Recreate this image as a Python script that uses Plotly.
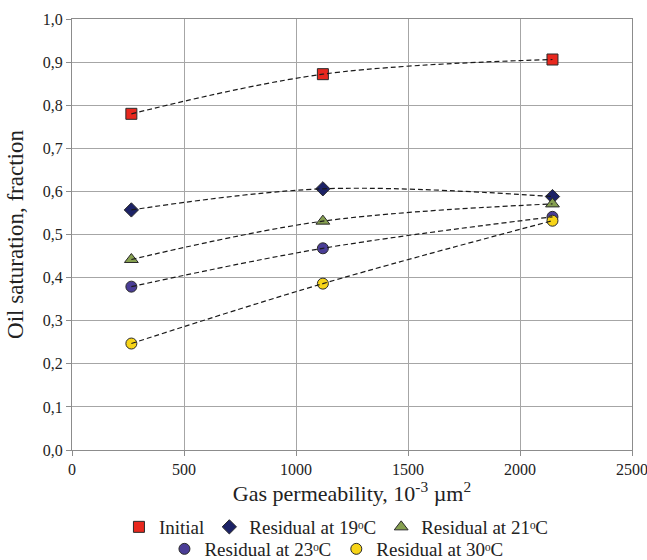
import plotly.graph_objects as go

# Data
permeability = [265, 1120, 2145]
initial = [0.780, 0.872, 0.906]
res_19 = [0.557, 0.606, 0.588]
res_21 = [0.442, 0.531, 0.571]
res_23 = [0.379, 0.468, 0.541]
res_30 = [0.247, 0.386, 0.532]

series = [
    ("Initial", initial, "square", "#e8281e", 11, "legend"),
    ("Residual at 19ᵒC", res_19, "diamond", "#1c2266", 11, "legend"),
    ("Residual at 21ᵒC", res_21, "triangle-up", "#86a050", 12, "legend"),
    ("Residual at 23ᵒC", res_23, "circle", "#4a3d96", 11, "legend2"),
    ("Residual at 30ᵒC", res_30, "circle", "#f7d417", 11, "legend2"),
]

fig = go.Figure()
for name, ys, sym, col, sz, lg in series:
    fig.add_trace(go.Scatter(
        x=permeability, y=ys, mode="markers", name=name, legend=lg,
        marker=dict(symbol=sym, color=col, size=sz, line=dict(color="#2a2a2a", width=1)),
    ))
for name, ys, sym, col, sz, lg in series:
    fig.add_trace(go.Scatter(
        x=permeability, y=ys, mode="lines", showlegend=False, hoverinfo="skip",
        line=dict(color="#1a1a1a", width=1.2, dash="5px,3px", shape="spline", smoothing=1.0),
    ))

font_family = "Times New Roman, Liberation Serif, serif"
fig.update_layout(
    width=647, height=560,
    margin=dict(l=72, r=15, t=19, b=110, autoexpand=False),
    paper_bgcolor="white", plot_bgcolor="white",
    separators=",.",
    font=dict(family=font_family, size=16, color="#222222"),
    showlegend=True,
    legend=dict(orientation="h", x=0.52, xanchor="center", xref="container",
                y=1 - 527 / 560, yanchor="middle", yref="container",
                font=dict(size=19, family=font_family), bgcolor="rgba(0,0,0,0)",
                itemwidth=30, tracegroupgap=0),
    legend2=dict(orientation="h", x=0.52, xanchor="center", xref="container",
                 y=1 - 549 / 560, yanchor="middle", yref="container",
                 font=dict(size=19, family=font_family), bgcolor="rgba(0,0,0,0)",
                 itemwidth=30, tracegroupgap=0),
    xaxis=dict(
        range=[0, 2500], dtick=500, tick0=0, tickformat="d", automargin=False,
        ticklabeloverflow="allow",
        showgrid=True, gridcolor="#a6a6a6", gridwidth=1,
        showline=True, linecolor="#8c8c8c", linewidth=1, mirror=True,
        ticks="outside", ticklen=5, tickcolor="#8c8c8c",
        zeroline=False,
        tickfont=dict(size=16, family=font_family),
        title=dict(text="Gas permeability, 10<sup>-3</sup> µm<sup>2</sup>",
                   font=dict(size=22, family=font_family), standoff=7),
    ),
    yaxis=dict(
        range=[0, 1.0], dtick=0.1, tick0=0, tickformat=".1f", automargin=False,
        showgrid=True, gridcolor="#a6a6a6", gridwidth=1,
        showline=True, linecolor="#8c8c8c", linewidth=1, mirror=True,
        ticks="outside", ticklen=5, tickcolor="#8c8c8c",
        zeroline=False,
        tickfont=dict(size=16, family=font_family),
        title=dict(text="Oil saturation, fraction",
                   font=dict(size=23, family=font_family), standoff=12),
    ),
)

fig.write_html("out.html")
